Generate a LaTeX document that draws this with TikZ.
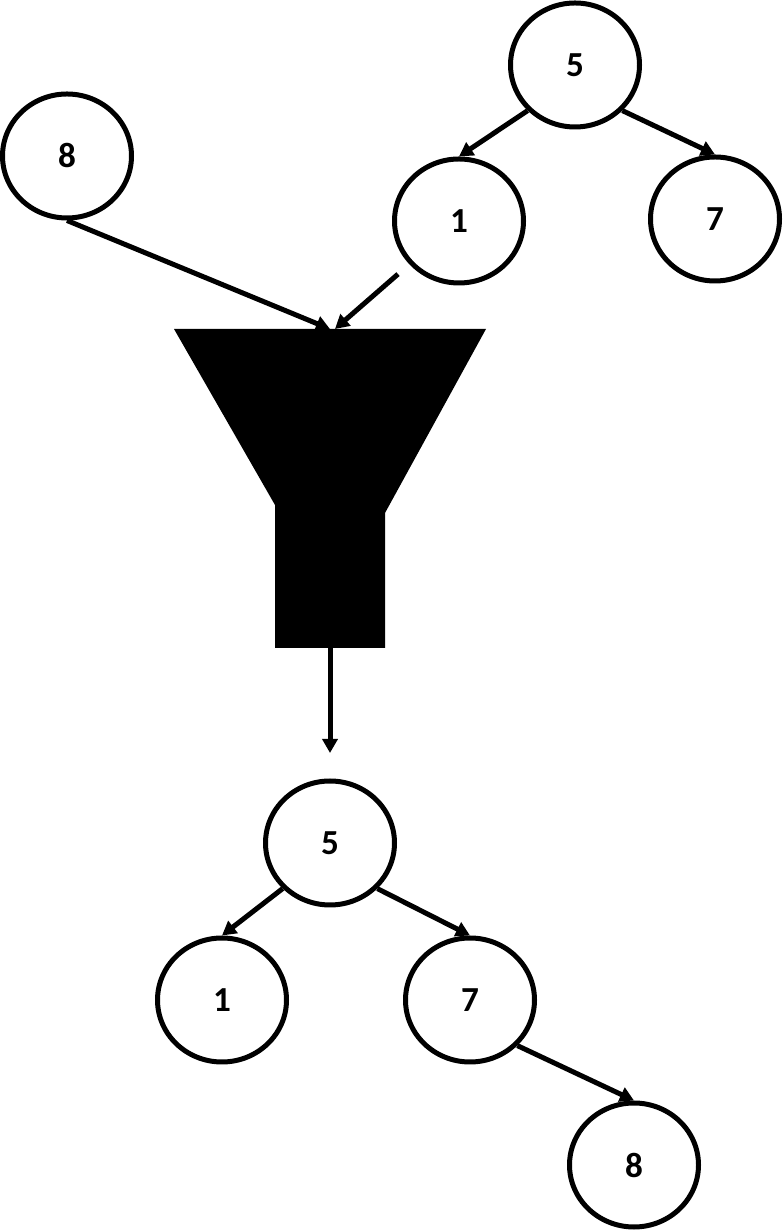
\documentclass[tikz,border=0pt]{standalone}
\usepackage{fontspec}
\setmainfont{Carlito}
\usetikzlibrary{shapes.geometric,arrows.meta}
\tikzset{
	heapnode/.style={draw, ellipse, line width=0.1cm, minimum width=2.58cm, minimum height=2.48cm, inner sep=0pt, font=\fontsize{20}{22}\selectfont\bfseries},
	heaplink/.style={line width=0.1cm, -{Triangle[length=0.28cm, width=0.3cm]}}
}

\begin{document}
\begin{tikzpicture}
		%%%%% START %%%%%
		\useasboundingbox (0, 0) rectangle (15.66, 24.62);
		
		\node[heapnode] (topfive) at (11.5, 23.32) {5};
		\node[heapnode] (topeight) at (1.34, 21.5) {8};
		\node[heapnode] (topone) at (9.18, 20.2) {1};
		\node[heapnode] (topseven) at (14.3, 20.24) {7};
		
		\node[heapnode] (botfive) at (6.6, 7.76) {5};
		\node[heapnode] (botone) at (4.44, 4.62) {1};
		\node[heapnode] (botseven) at (9.4, 4.62) {7};
		\node[heapnode] (boteight) at (12.68, 1.32) {8};
		
		\coordinate (funneltop) at (6.6, 18.04);
		\coordinate (funneltip) at (6.7, 18.04);
		\coordinate (funnelbot) at (6.6, 11.66);
		\coordinate (funnelout) at (6.6, 9.56);
		
		\fill[black] (3.48, 18.04) -- (9.72, 18.04) -- (7.7, 14.36) -- (7.7, 11.66) -- (5.5, 11.66) -- (5.5, 14.52) -- cycle;
		
		\draw[heaplink] (topfive.south west) -- (topone.north);
		\draw[heaplink] (topfive.south east) -- (topseven.north);
		\draw[heaplink] (topeight.south) -- (funneltop);
		\draw[heaplink, shorten <=0.3cm] (topone) -- (funneltip);
		\draw[heaplink] (funnelbot) -- (funnelout);
		\draw[heaplink] (botfive.south west) -- (botone.north);
		\draw[heaplink] (botfive.south east) -- (botseven.north);
		\draw[heaplink] (botseven.south east) -- (boteight.north);
		
		%%%%% END %%%%%
	\end{tikzpicture}
\end{document}
